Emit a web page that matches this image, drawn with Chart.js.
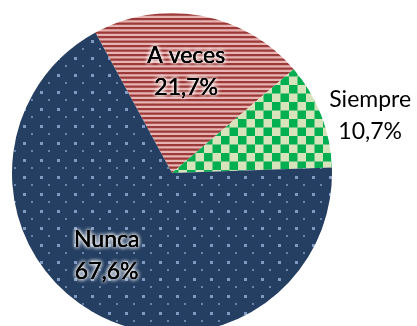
<!DOCTYPE html>
<html>
<head>
<meta charset="utf-8">
<script src="https://cdn.jsdelivr.net/npm/chart.js@4"></script>
<style>
  html, body { margin: 0; padding: 0; background: #fff; overflow: hidden; }
  .wrap { width: 417px; height: 346px; }
</style>
</head>
<body>
<div class="wrap"><canvas id="pie"></canvas></div>
<script>
const labels = ["A veces", "Siempre", "Nunca"];
const values = [21.7, 10.7, 67.6];
const valueText = ["21,7%", "10,7%", "67,6%"];

// pattern tiles
function stripes() {
  let c = document.createElement("canvas");
  c.width = 9; c.height = 9;
  let g = c.getContext("2d");
  g.fillStyle = "#e8b4b3"; g.fillRect(0, 0, 9, 9);
  g.fillStyle = "#9b3a38";
  g.fillRect(0, 0, 9, 2.25);
  g.fillRect(0, 4.5, 9, 2.25);
  return g.createPattern(c, "repeat");
}
function checker() {
  let c = document.createElement("canvas");
  c.width = 17; c.height = 17;
  let g = c.getContext("2d");
  g.fillStyle = "#d6e3bb"; g.fillRect(0, 0, 17, 17);
  g.fillStyle = "#00b050";
  g.fillRect(0, 0, 8.5, 8.5);
  g.fillRect(8.5, 8.5, 8.5, 8.5);
  return g.createPattern(c, "repeat");
}
function dots() {
  let c = document.createElement("canvas");
  c.width = 17; c.height = 17;
  let g = c.getContext("2d");
  g.fillStyle = "#253f62"; g.fillRect(0, 0, 17, 17);
  g.fillStyle = "#8099c2"; g.fillRect(6, 6, 3, 3);
  g.fillStyle = "#6a84ae"; g.fillRect(14, 14, 2, 2);
  return g.createPattern(c, "repeat");
}

// label placement: [angle tweak in degrees, radius fraction]
const labelPos = [[-2.5, 0.64], [5, 1.29], [8.5, 0.66]];

const pieLabels = {
  id: "pieLabels",
  afterDatasetsDraw(chart) {
    let ctx = chart.ctx;
    let arcs = chart.getDatasetMeta(0).data;
    ctx.save();
    ctx.font = "23px Lato";
    ctx.textAlign = "center";
    ctx.textBaseline = "middle";
    arcs.forEach((arc, i) => {
      let p = arc.getProps(["x", "y", "startAngle", "endAngle", "outerRadius"], true);
      let a = (p.startAngle + p.endAngle) / 2 + labelPos[i][0] * Math.PI / 180;
      let r = p.outerRadius * labelPos[i][1];
      let x = p.x + Math.cos(a) * r;
      let y = p.y + Math.sin(a) * r;
      let inside = labelPos[i][1] < 1;
      [labels[i], valueText[i]].forEach((t, k) => {
        let ty = y + (k - 0.5) * 32;
        if (inside) {
          ctx.shadowColor = "#fff";
          ctx.shadowBlur = 4;
          ctx.fillStyle = "#000";
          for (let n = 0; n < 3; n++) ctx.fillText(t, x, ty);
          ctx.shadowBlur = 0;
        }
        ctx.fillStyle = "#000";
        ctx.fillText(t, x, ty);
      });
    });
    ctx.restore();
  },
};

new Chart(document.getElementById("pie"), {
  type: "pie",
  data: {
    labels,
    datasets: [
      {
        data: values,
        backgroundColor: [stripes(), checker(), dots()],
        borderWidth: 0,
      },
    ],
  },
  options: {
    responsive: true,
    maintainAspectRatio: false,
    animation: false,
    rotation: -28.6,
    layout: { padding: { left: 12, right: 85, top: 13, bottom: 13 } },
    plugins: { legend: { display: false }, tooltip: { enabled: false } },
  },
  plugins: [pieLabels],
});
</script>
</body>
</html>
